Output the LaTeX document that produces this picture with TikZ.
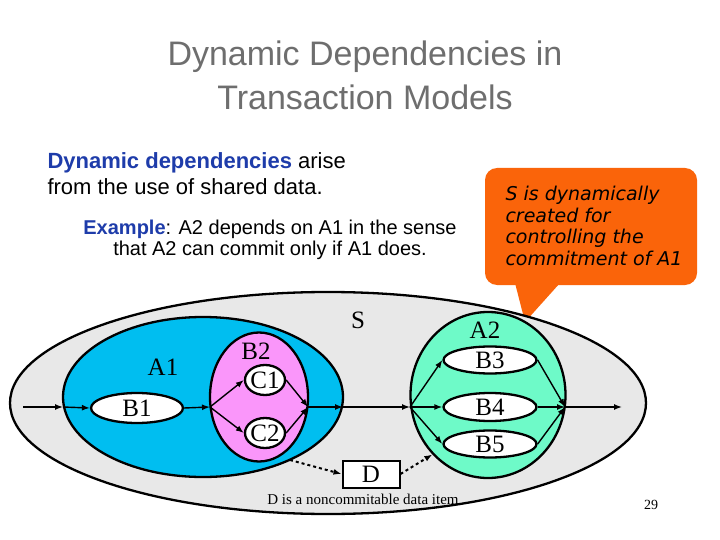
\documentclass[tikz,border=0pt]{standalone}
\usepackage{fontspec}
\setmainfont{Liberation Serif}
\newfontfamily\sans{Liberation Sans}
\newfontfamily\hand{DejaVu Sans}
\usetikzlibrary{arrows.meta,shapes.geometric}
\definecolor{ttl}{RGB}{110,110,110}
\definecolor{blu}{RGB}{30,60,170}
\definecolor{aone}{RGB}{0,190,240}
\definecolor{pinkb}{RGB}{250,150,250}
\definecolor{greena}{RGB}{110,250,200}
\definecolor{orng}{RGB}{250,100,10}
\begin{document}
\begin{tikzpicture}[x=1pt,y=-1pt,
  ell/.style={ellipse,draw,line width=2.3pt,inner sep=0pt},
  lbl/.style={font=\fontsize{25}{25}\selectfont},
  arr/.style={-{Latex[length=8pt,width=6pt]},line width=1.4pt}]
\useasboundingbox (0,0) rectangle (720,540);
\fill[white] (0,0) rectangle (720,540);
\node[text=ttl,font=\sans\fontsize{34}{44}\selectfont,align=center] (title) at (365,75) {Dynamic Dependencies in\\Transaction Models};
\node[anchor=west,font=\sans\fontsize{22}{26}\selectfont,align=left] (t1) at (44,174) {\textcolor{blu}{\textbf{Dynamic dependencies}} arise\\from the use of shared data.};
\node[font=\sans\fontsize{20}{21}\selectfont,align=center] (t2) at (270,240) {\textcolor{blu}{\textbf{Example}}: A2 depends on A1 in the sense\\that A2 can commit only if A1 does.};
% callout
\fill[orng,rounded corners=12pt] (485,168) rectangle (697,285);
\fill[orng] (515,283) -- (560,283) -- (525,322) -- cycle;
\node[anchor=west,font=\hand\itshape\fontsize{19}{21.5}\selectfont,align=left] (call) at (502,226) {S is dynamically\\created for\\controlling the\\commitment of A1};
% ellipses
\node[ell,fill=black!9,minimum width=636pt,minimum height=222pt] (S) at (328,403) {};
\node[lbl] (Sl) at (358,320) {S};
\node[ell,fill=aone,minimum width=280pt,minimum height=160pt] (A1) at (203,397) {};
\node[lbl] (A1l) at (163,367) {A1};
\node[ell,fill=pinkb,minimum width=98pt,minimum height=129pt] (B2) at (259,397) {};
\node[lbl] (B2l) at (256,351) {B2};
\node[ell,fill=white,minimum width=40pt,minimum height=30pt] (C1) at (265,380) {};
\node[lbl] at (C1) {C1};
\node[ell,fill=white,minimum width=40pt,minimum height=30pt] (C2) at (265,433) {};
\node[lbl] at (C2) {C2};
\node[ell,fill=white,minimum width=92pt,minimum height=30pt] (B1) at (137,408) {};
\node[lbl] at (B1) {B1};
\node[ell,fill=greena,minimum width=155pt,minimum height=166pt] (A2) at (488,395) {};
\node[lbl] (A2l) at (485,330) {A2};
\node[ell,fill=white,minimum width=93pt,minimum height=27pt] (B3) at (490,360) {};
\node[lbl] at (B3) {B3};
\node[ell,fill=white,minimum width=93pt,minimum height=28pt] (B4) at (490,407) {};
\node[lbl] at (B4) {B4};
\node[ell,fill=white,minimum width=93pt,minimum height=27pt] (B5) at (490,444) {};
\node[lbl] at (B5) {B5};
\node[draw,line width=2pt,fill=white,minimum width=57pt,minimum height=27pt,inner sep=0pt,lbl] (D) at (371,474) {D};
\node[font=\fontsize{15}{15}\selectfont] (Dt) at (363,499) {D is a noncommitable data item};
\node[font=\fontsize{14}{14}\selectfont] (pg) at (651,505) {29};
% flow
\coordinate (in) at (23,407);
\coordinate (a1l) at (63,407);
\coordinate (b2l) at (210,407);
\coordinate (b2r) at (308,407);
\coordinate (a1r) at (343,407);
\coordinate (a2l) at (410,407);
\coordinate (a2r) at (565,407);
\coordinate (out) at (622,407);
\coordinate (b2s) at (290,460);
\draw[arr] (in) -- (a1l);
\draw[arr] (a1l) -- (B1.west);
\draw[arr] (B1.east) -- (b2l);
\draw[arr] (b2l) -- (C1.west);
\draw[arr] (b2l) -- (C2.west);
\draw[arr] (C1.east) -- (b2r);
\draw[arr] (C2.east) -- (b2r);
\draw[arr] (b2r) -- (a1r);
\draw[arr] (a1r) -- (a2l);
\draw[arr] (a2l) -- (B3.west);
\draw[arr] (a2l) -- (B4.west);
\draw[arr] (a2l) -- (B5.west);
\draw[arr] (B3.east) -- (a2r);
\draw[arr] (B4.east) -- (a2r);
\draw[arr] (B5.east) -- (a2r);
\draw[arr] (a2r) -- (out);
\draw[arr,dashed,line width=2pt] (b2s) -- (D.west);
\draw[arr,dashed,line width=2pt] (D.east) -- (A2.south west);
\end{tikzpicture}
\end{document}
